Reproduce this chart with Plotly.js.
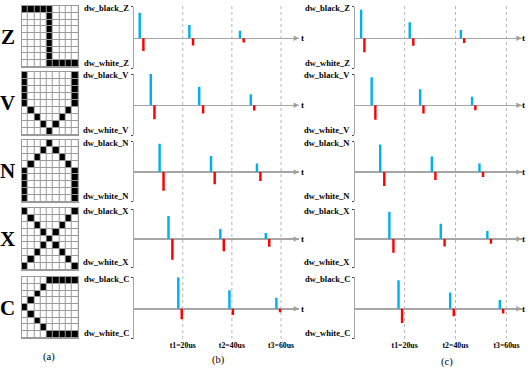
<!DOCTYPE html>
<html><head><meta charset="utf-8">
<script src="https://cdn.plot.ly/plotly-3.0.1.min.js"></script>
<style>html,body{margin:0;padding:0;background:#fff}#chart{width:529px;height:370px}</style>
</head><body><div id="chart"></div>
<script>
// ---------- data ----------
const letters = ['Z','V','N','X','C'];

const gridZ = [
 [1,1,1,1,1,0,0,0,0],
 [0,0,0,0,1,0,0,0,0],
 [0,0,0,0,1,0,0,0,0],
 [0,0,0,0,1,0,0,0,0],
 [0,0,0,0,1,0,0,0,0],
 [0,0,0,0,1,0,0,0,0],
 [0,0,0,0,1,0,0,0,0],
 [0,0,0,0,1,0,0,0,0],
 [0,0,0,0,1,1,1,1,1]];
const gridV = [
 [1,0,0,0,0,0,0,0,1],
 [1,0,0,0,0,0,0,0,1],
 [1,0,0,0,0,0,0,0,1],
 [1,0,0,0,0,0,0,0,1],
 [1,0,0,0,0,0,0,0,1],
 [0,1,0,0,0,0,0,1,0],
 [0,0,1,0,0,0,1,0,0],
 [0,0,0,1,0,1,0,0,0],
 [0,0,0,0,1,0,0,0,0]];
const gridN = [
 [0,0,0,0,1,0,0,0,0],
 [0,0,0,1,0,1,0,0,0],
 [0,0,1,0,0,0,1,0,0],
 [0,1,0,0,0,0,0,1,0],
 [1,0,0,0,0,0,0,0,1],
 [1,0,0,0,0,0,0,0,1],
 [1,0,0,0,0,0,0,0,1],
 [1,0,0,0,0,0,0,0,1],
 [1,0,0,0,0,0,0,0,1]];
const gridX = [
 [1,0,0,0,0,0,0,0,1],
 [0,1,0,0,0,0,0,1,0],
 [0,0,1,0,0,0,1,0,0],
 [0,0,0,1,0,1,0,0,0],
 [0,0,0,0,1,0,0,0,0],
 [0,0,0,1,0,1,0,0,0],
 [0,0,1,0,0,0,1,0,0],
 [0,1,0,0,0,0,0,1,0],
 [1,0,0,0,0,0,0,0,1]];
const gridC = [
 [0,0,0,0,1,1,1,1,1],
 [0,0,0,1,0,0,0,0,0],
 [0,0,1,0,0,0,0,0,0],
 [0,1,0,0,0,0,0,0,0],
 [1,0,0,0,0,0,0,0,0],
 [0,1,0,0,0,0,0,0,0],
 [0,0,1,0,0,0,0,0,0],
 [0,0,0,1,0,0,0,0,0],
 [0,0,0,0,1,1,1,1,1]];

const blackLabels = ['dw_black_Z','dw_black_V','dw_black_N','dw_black_X','dw_black_C'];
const whiteLabels = ['dw_white_Z','dw_white_V','dw_white_N','dw_white_X','dw_white_C'];
const timeTicks = [20, 40, 60];
const timeTickText = ['t1=20us','t2=40us','t3=60us'];

// panel (b): spike times (us) and amplitudes, rows = Z,V,N,X,C
const bBlackT = [[2.5,22.7,43.3],[7.0,26.7,47.7],[10.6,31.5,50.2],[14.2,35.3,53.8],[18.2,39.0,58.1]];
const bBlackH = [[0.81,0.42,0.24],[1.0,0.59,0.35],[0.93,0.53,0.28],[0.77,0.33,0.20],[1.0,0.59,0.35]];
const bWhiteT = [[4.0,24.2,44.8],[8.5,28.3,49.1],[12.2,33.0,51.6],[15.8,36.7,55.2],[19.6,40.4,59.6]];
const bWhiteH = [[-0.40,-0.23,-0.13],[-0.45,-0.26,-0.17],[-0.61,-0.40,-0.29],[-0.69,-0.41,-0.26],[-0.33,-0.20,-0.11]];

// panel (c)
const cBlackT = [[2.9,22.0,42.1],[7.05,26.1,46.5],[10.4,30.7,49.4],[14.0,34.2,52.5],[17.6,37.9,57.4]];
const cBlackH = [[0.90,0.51,0.26],[0.90,0.51,0.27],[0.91,0.51,0.28],[0.91,0.51,0.27],[0.91,0.52,0.28]];
const cWhiteT = [[4.2,23.4,43.4],[8.5,27.4,47.8],[12.0,32.1,50.8],[15.6,35.7,53.9],[19.0,39.3,58.7]];
const cWhiteH = [[-0.44,-0.24,-0.15],[-0.46,-0.26,-0.16],[-0.46,-0.26,-0.16],[-0.46,-0.25,-0.16],[-0.45,-0.24,-0.15]];

// ---------- layout helpers ----------
const W = 529, H = 370;
const FONT = 'Liberation Serif, Times New Roman, serif';
const grids = [gridZ, gridV, gridN, gridX, gridC];
const gridPx = [[6,67],[72,135],[140,202],[208,270],[277,338]];
const panelPx = [[6.7,68.3],[74,135],[141.7,201],[209,267.5],[277.3,338.7]];
const yLo = -0.95, yHi = 1;
const cols = [
  {px:[134.3,299], range:[0.3,67.3], bw:1.0, bt:bBlackT, bh:bBlackH, wt:bWhiteT, wh:bWhiteH, tx:302},
  {px:[355,521.7], range:[0.5,66], bw:0.95, bt:cBlackT, bh:cBlackH, wt:cWhiteT, wh:cWhiteH, tx:523.5}
];
const yd = p => [1 - p[1]/H, 1 - p[0]/H];
const xd = p => [p[0]/W, p[1]/W];
const axName = (k, i) => k + 'axis' + (i === 1 ? '' : i);
const axRef = (k, i) => k + (i === 1 ? '' : i);
const labFont = {family:FONT, size:8.5, weight:'bold', color:'#000'};
const tickFont = {family:FONT, size:7.8, weight:'bold', color:'#000'};

const data = [];
const layout = {
  width: W, height: H, margin:{l:0,r:0,t:0,b:0},
  paper_bgcolor:'#fff', plot_bgcolor:'rgba(0,0,0,0)',
  showlegend:false, barmode:'overlay',
  font:{family:FONT, color:'#000'},
  shapes:[], annotations:[]
};

let idx = 1;
// (a) letter grids
grids.forEach((g, r) => {
  data.push({type:'heatmap', z:g, xaxis:axRef('x',idx), yaxis:axRef('y',idx),
    colorscale:[[0,'#ffffff'],[1,'#000000']], zmin:0, zmax:1, showscale:false,
    xgap:1, ygap:1, hoverinfo:'skip'});
  layout[axName('x',idx)] = {domain:xd([21.7,78.3]), range:[-0.5,8.5], anchor:axRef('y',idx),
    showline:true, mirror:true, linecolor:'#9a9a9a', linewidth:1, showgrid:false, zeroline:false,
    showticklabels:false, ticks:'', fixedrange:true};
  layout[axName('y',idx)] = {domain:yd(gridPx[r]), range:[8.5,-0.5], anchor:axRef('x',idx),
    showline:true, mirror:true, linecolor:'#9a9a9a', linewidth:1, showgrid:false, zeroline:false,
    showticklabels:false, ticks:'', fixedrange:true};
  layout.shapes.push({type:'rect', xref:axRef('x',idx), yref:axRef('y',idx), x0:-0.5, x1:8.5, y0:-0.5, y1:8.5,
    fillcolor:'#9a9a9a', line:{width:0}, layer:'below'});
  layout.annotations.push({xref:'paper', yref:'paper', x:7.5/W, y:1-((gridPx[r][0]+gridPx[r][1])/2)/H,
    text:letters[r], showarrow:false, xanchor:'center', yanchor:'middle',
    font:{family:FONT, size:21, weight:'bold', color:'#000'}});
  idx++;
});

// (b) and (c) spike panels
cols.forEach((c) => {
  let lastIdx = 0;
  letters.forEach((L, r) => {
    const xr = axRef('x',idx), yr = axRef('y',idx);
    data.push({type:'bar', x:c.bt[r], y:c.bh[r], width:c.bw, xaxis:xr, yaxis:yr,
      marker:{color:'#00b0f0', line:{width:0}}, hoverinfo:'skip'});
    data.push({type:'bar', x:c.wt[r], y:c.wh[r], width:c.bw, xaxis:xr, yaxis:yr,
      marker:{color:'#ff0000', line:{width:0}}, hoverinfo:'skip'});
    const isBottom = r === letters.length - 1;
    layout[axName('x',idx)] = {domain:xd(c.px), range:c.range, anchor:yr,
      showline:false, showgrid:false, zeroline:false, ticks:'',
      tickvals:timeTicks, ticktext:timeTickText, showticklabels:isBottom,
      tickfont:tickFont, fixedrange:true};
    layout[axName('y',idx)] = {domain:yd(panelPx[r]), range:[yLo,yHi], anchor:xr,
      showline:true, linecolor:'#a6a6a6', linewidth:1, showgrid:false,
      zeroline:true, zerolinecolor:'#a6a6a6', zerolinewidth:1.5,
      tickvals:[yHi, yLo], showticklabels:false,
      ticks:'outside', ticklen:2, tickwidth:1, tickcolor:'#444', fixedrange:true};
    // axis end labels
    layout.annotations.push({xref:'paper', yref:yr, x:(c.px[0]-3.5)/W, y:yHi, yshift:-1.5,
      text:blackLabels[r], showarrow:false, xanchor:'right', yanchor:'middle', font:labFont});
    layout.annotations.push({xref:'paper', yref:yr, x:(c.px[0]-3.5)/W, y:yLo, yshift:-1.5,
      text:whiteLabels[r], showarrow:false, xanchor:'right', yanchor:'bottom', font:labFont});
    // arrow on time axis
    layout.annotations.push({xref:xr, yref:yr, axref:xr, ayref:yr,
      x:c.range[1], y:0, ax:c.range[1]-2.5, ay:0, text:'', showarrow:true,
      arrowhead:2, arrowsize:0.9, arrowwidth:1.2, arrowcolor:'#a0a0a0', standoff:0, startstandoff:0});
    layout.annotations.push({xref:'paper', yref:yr, x:c.tx/W, y:0, text:'t', showarrow:false,
      xanchor:'center', yanchor:'middle', font:{family:FONT, size:9, weight:'bold', color:'#000'}});
    lastIdx = idx;
    idx++;
  });
  // dotted time markers spanning the whole column
  timeTicks.forEach(t => {
    layout.shapes.push({type:'line', xref:axRef('x',lastIdx), yref:'paper', x0:t, x1:t,
      y0:1-6/H, y1:1-338.7/H, line:{color:'#b5b5b5', width:1, dash:'dot'}, layer:'below'});
  });
});

// sub-figure captions
[['(a)',48.7,357],['(b)',218,360],['(c)',447,362]].forEach(([t,x,y]) => {
  layout.annotations.push({xref:'paper', yref:'paper', x:x/W, y:1-y/H, text:t, showarrow:false,
    xanchor:'center', yanchor:'middle', font:{family:FONT, size:10.5, color:'#000'}});
});

Plotly.newPlot('chart', data, layout, {staticPlot:true, displayModeBar:false});
</script>
</body></html>
